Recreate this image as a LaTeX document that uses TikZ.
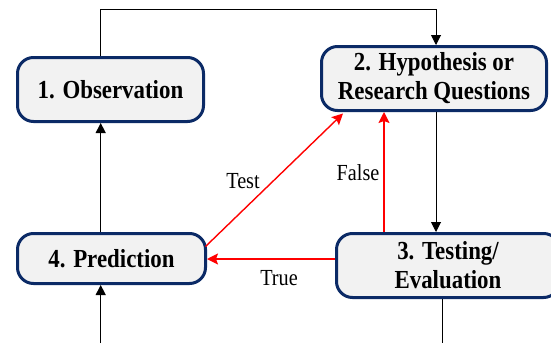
\documentclass[tikz,border=0pt]{standalone}
\usepackage{fontspec}
\setmainfont{Liberation Serif}[FakeStretch=0.88]
\usetikzlibrary{arrows.meta,calc}
\definecolor{navy}{HTML}{0B2A66}
\definecolor{boxfill}{HTML}{F2F2F2}
\tikzset{
  stagebox/.style={draw=navy, line width=3pt, fill=boxfill, rounded corners=16pt,
    inner sep=0pt, align=center, font=\bfseries\fontsize{26}{29}\selectfont},
  blackarrow/.style={line width=1pt, -{Triangle[length=10pt,width=10pt]}},
  blackline/.style={line width=1pt},
  redarrow/.style={red, line width=1.4pt, -{Stealth[length=11pt,width=11pt,inset=2pt]}},
  lbl/.style={font=\fontsize{23}{25}\selectfont, inner sep=0pt}
}
\begin{document}
\begin{tikzpicture}[x=1pt,y=-1pt]
\useasboundingbox (0,0) rectangle (551,343);
\node[stagebox, minimum width=186pt, minimum height=64pt] (o) at (110.5,89.5) {1. Observation};
\node[stagebox, minimum width=225pt, minimum height=64pt] (h) at (434,78.5) {2. Hypothesis or\\Research Questions};
\node[stagebox, minimum width=188pt, minimum height=50pt] (p) at (111.5,258.5) {4. Prediction};
\node[stagebox, minimum width=223pt, minimum height=64pt] (t) at (448,265.5) {3. Testing/\\Evaluation};
% helper coordinates
\coordinate (c1) at (100.7,9.5);
\coordinate (topR) at (436,9.5);
\coordinate (b1) at (100.7,343);
\coordinate (b3) at (442,343);
\coordinate (ry) at (0,259);
\coordinate (rx) at (384,0);
% black connectors
\draw[blackarrow] (o.north -| c1) -- (c1) -- (topR) -- (h.north -| topR);
\draw[blackarrow] (p.north -| c1) -- (o.south -| c1);
\draw[blackarrow] (h.south -| topR) -- (t.north -| topR);
\draw[blackarrow] (b1) -- (p.south -| b1);
\draw[blackline] (t.south -| b3) -- (b3);
% red connectors
\draw[redarrow] (t.west |- ry) -- (p.east |- ry);
\draw[redarrow] (t.north -| rx) -- (h.south -| rx);
\draw[redarrow] ($(p.north east)+(-1.5,14.5)$) -- ($(h.south west)+(23,1.5)$);
% labels
\node[lbl] (lt) at (243,181) {Test};
\node[lbl] (lf) at (358,173) {False};
\node[lbl] (ltr) at (279,278) {True};
\end{tikzpicture}
\end{document}
